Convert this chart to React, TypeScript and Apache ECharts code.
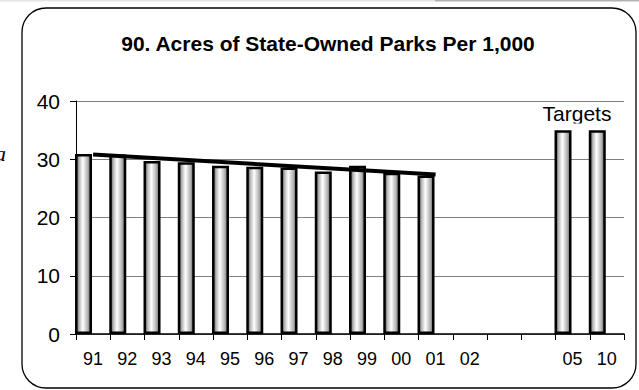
import React, { useEffect, useRef } from "react";
import * as echarts from "echarts";

const categories = ["91", "92", "93", "94", "95", "96", "97", "98", "99", "00", "01", "02", "", "", "05", "10"];
const acres = [30.9, 30.8, 29.7, 29.5, 28.9, 28.7, 28.6, 27.9, 28.9, 27.7, 27.2, null, null, null, 35, 35];
const spacer = categories.map(() => null);
const trend = [30.8, null, null, null, null, null, null, null, null, null, 27.4, null, null, null, null, null];
const yTicks = { min: 0, max: 40, interval: 10 };
const titleText = "90. Acres of State-Owned Parks Per 1,000";
const targetsText = "Targets";

const FONT = "'Liberation Sans', Arial, sans-serif";

export default function App() {
  const ref = useRef<HTMLDivElement>(null);
  useEffect(() => {
    if (!ref.current) return;
    const chart = echarts.init(ref.current, null, { renderer: "svg" });
    const barGrad = new echarts.graphic.LinearGradient(0, 0, 1, 0, [
      { offset: 0, color: "#4a4a4a" },
      { offset: 0.2, color: "#b8b8b8" },
      { offset: 0.45, color: "#ffffff" },
      { offset: 0.8, color: "#b0b0b0" },
      { offset: 1, color: "#5a5a5a" },
    ]);
    chart.setOption({
      animation: false,
      backgroundColor: "#ffffff",
      grid: { left: 76, right: 15, top: 101, bottom: 56, containLabel: false },
      xAxis: {
        type: "category",
        data: categories,
        boundaryGap: true,
        axisLine: { lineStyle: { color: "#000", width: 1.5 } },
        axisTick: { show: true, length: 6, lineStyle: { color: "#000" } },
        axisLabel: { interval: 0, color: "#000", fontSize: 18, fontFamily: FONT, margin: 16 },
        splitLine: { show: false },
      },
      yAxis: {
        type: "value",
        min: yTicks.min,
        max: yTicks.max,
        interval: yTicks.interval,
        axisLine: { show: true, lineStyle: { color: "#000", width: 1 } },
        axisTick: { show: true, length: 6, lineStyle: { color: "#000" } },
        axisLabel: { color: "#000", fontSize: 21, fontFamily: FONT, margin: 16 },
        splitLine: { show: true, lineStyle: { color: "#808080", width: 1 } },
      },
      series: [
        {
          type: "bar",
          data: acres,
          barWidth: 17,
          barGap: "13%",
          itemStyle: { color: barGrad, borderColor: "#000", borderWidth: 2.5 },
          z: 2,
        },
        {
          type: "bar",
          data: spacer,
          barWidth: 17,
          itemStyle: { color: "transparent" },
          z: 1,
        },
        {
          type: "line",
          data: trend,
          connectNulls: true,
          symbol: "none",
          lineStyle: { color: "#000", width: 4 },
          z: 5,
        },
      ],
      graphic: [
        { type: "rect", shape: { x: 0, y: 0, width: 435, height: 1.5 }, style: { fill: "#e4e4e4" }, silent: true },
        { type: "rect", shape: { x: 435, y: 0, width: 204, height: 1.5 }, style: { fill: "#b2b2b2" }, silent: true },
        {
          type: "rect",
          shape: { x: 22, y: 8, width: 614, height: 380, r: 24 },
          style: { fill: "none", stroke: "#000", lineWidth: 1.3 },
          silent: true,
          z: -1,
        },
        {
          type: "text",
          x: 328,
          y: 33,
          style: { text: titleText, fill: "#000", font: `bold 21px ${FONT}`, textAlign: "center", textVerticalAlign: "top" },
          silent: true,
        },
        {
          type: "text",
          x: 577,
          y: 103,
          style: { text: targetsText, fill: "#000", font: `21px ${FONT}`, textAlign: "center", textVerticalAlign: "top" },
          silent: true,
          z: 10,
        },
        {
          type: "rect",
          shape: { x: 538, y: 123.5, width: 80, height: 6 },
          style: { fill: "#ffffff" },
          silent: true,
          z: 11,
        },
        {
          type: "text",
          x: 6,
          y: 153,
          style: {
            text: "a",
            fill: "#000",
            font: "italic 22px 'Liberation Serif', 'DejaVu Serif', serif",
            textAlign: "right",
            textVerticalAlign: "middle",
          },
          silent: true,
        },
      ],
    });
    return () => chart.dispose();
  }, []);
  return (
    <div
      ref={ref}
      style={{ position: "fixed", left: 0, top: 0, width: 639, height: 390, background: "#fff" }}
    />
  );
}
